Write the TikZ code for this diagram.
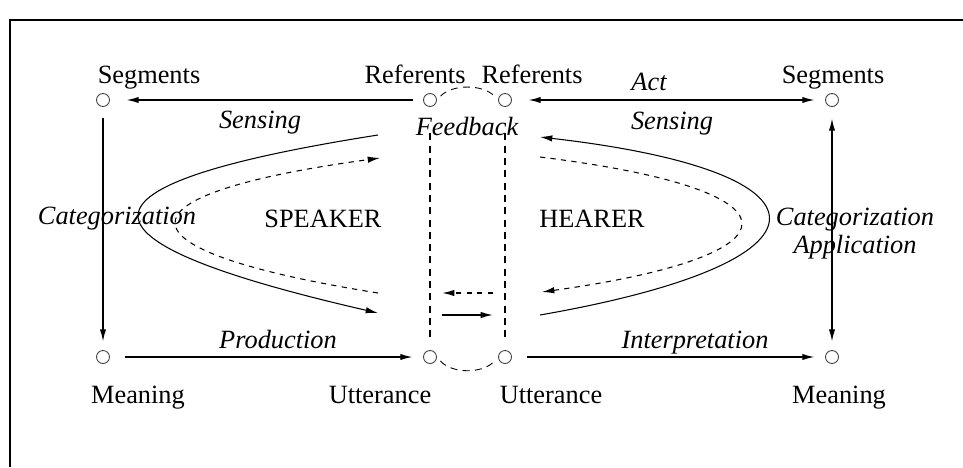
\documentclass[tikz,border=0pt]{standalone}
\usepackage{fontspec}
\setmainfont{Liberation Serif}
\usetikzlibrary{arrows.meta}

\tikzset{
    spot/.style={circle, draw=black!75, line width=0.5pt, minimum size=0.26cm, inner sep=0pt},
    lbl/.style={anchor=base, font=\fontsize{15}{18}\selectfont},
    lbli/.style={anchor=base, font=\fontsize{15}{18}\selectfont\itshape},
    flow/.style={line width=0.8pt, >={Latex[length=7pt,width=3.6pt]}},
    cycleline/.style={line width=0.6pt, >={Latex[length=7pt,width=3.6pt]}},
    gapline/.style={line width=0.8pt, dash pattern=on 4pt off 3pt},
}

\begin{document}
\begin{tikzpicture}[x=0.02cm, y=-0.02cm]
    \useasboundingbox (0,0) rectangle (963,467);
    % frame (only top and left edges are visible)
    \draw[line width=1.2pt] (10,467) -- (10,20) -- (963,20);

    % points
    \node[spot] (segL) at (103,100) {};
    \node[spot] (refS) at (430,100) {};
    \node[spot] (refH) at (505,100) {};
    \node[spot] (segR) at (832,100) {};
    \node[spot] (meanL) at (103,357) {};
    \node[spot] (uttS) at (430,357) {};
    \node[spot] (uttH) at (505,357) {};
    \node[spot] (meanR) at (832,357) {};

    % point labels
    \node[lbl] (tSegL) at (149,83) {Segments};
    \node[lbl] (tRefS) at (415,83) {Referents};
    \node[lbl] (tRefH) at (532,83) {Referents};
    \node[lbl] (tSegR) at (833,83) {Segments};
    \node[lbl] (tMeanL) at (138,403) {Meaning};
    \node[lbl] (tUttS) at (380,403) {Utterance};
    \node[lbl] (tUttH) at (551,403) {Utterance};
    \node[lbl] (tMeanR) at (839,403) {Meaning};

    % arrow labels
    \node[lbli] (tSensS) at (260,128) {Sensing};
    \node[lbli] (tFeed) at (467,135) {Feedback};
    \node[lbli] (tAct) at (649,90) {Act};
    \node[lbli] (tSensH) at (672,129) {Sensing};
    \node[lbli] (tProd) at (278,348) {Production};
    \node[lbli] (tInterp) at (695,348) {Interpretation};
    \node[lbli] (tCatS) at (117,224) {Categorization};
    \node[lbli] (tCatH) at (855,225) {Categorization};
    \node[lbli] (tAppl) at (855,253) {Application};
    \node[lbl] (tSpeaker) at (323,227) {SPEAKER};
    \node[lbl] (tHearer) at (592,227) {HEARER};

    % outer arrows
    \draw[flow, ->, shorten <=0.2cm, shorten >=0.33cm] (refS) -- (segL);
    \draw[flow, <->, shorten <=0.33cm, shorten >=0.21cm] (refH) -- (segR);
    \draw[flow, ->, shorten <=0.23cm, shorten >=0.17cm] (segL) -- (meanL);
    \draw[flow, <->, shorten <=0.23cm, shorten >=0.17cm] (segR) -- (meanR);
    \draw[flow, ->, shorten <=0.31cm, shorten >=0.21cm] (meanL) -- (uttS);
    \draw[flow, ->, shorten <=0.31cm, shorten >=0.21cm] (uttH) -- (meanR);

    % the two agents are linked
    \draw[gapline, shorten <=0.53cm, shorten >=0.27cm] (refS) -- (uttS);
    \draw[gapline, shorten <=0.53cm, shorten >=0.27cm] (refH) -- (uttH);
    \draw[gapline, line width=0.5pt, shorten <=3pt, shorten >=3pt]
        (refS.east) .. controls +(15,-16) and +(-15,-16) .. (refH.west);
    \draw[gapline, line width=0.5pt, shorten <=3pt, shorten >=3pt]
        (uttS.east) .. controls +(15,17) and +(-15,17) .. (uttH.west);

    \coordinate (fbA) at (493,293);
    \coordinate (fbB) at (442,293);
    \coordinate (fwA) at (442,315);
    \coordinate (fwB) at (493,315);
    \draw[flow, ->, dashed] (fbA) -- (fbB);
    \draw[flow, ->] (fwA) -- (fwB);

    % speaker cycle
    \coordinate (spA) at (378,135);
    \coordinate (spB) at (378,313);
    \coordinate (spC) at (378,293);
    \coordinate (spD) at (380,158);
    \draw[cycleline, ->] (spA) .. controls (60,185) and (60,240) .. (spB);
    \draw[cycleline, ->, dashed] (spC) .. controls (109,250) and (109,195) .. (spD);

    % hearer cycle
    \coordinate (hrA) at (540,315);
    \coordinate (hrB) at (540,137);
    \coordinate (hrC) at (540,157);
    \coordinate (hrD) at (542,292);
    \draw[cycleline, ->] (hrA) .. controls (844,262) and (844,172) .. (hrB);
    \draw[cycleline, ->, dashed] (hrC) .. controls (807,190) and (807,255) .. (hrD);
\end{tikzpicture}
\end{document}
